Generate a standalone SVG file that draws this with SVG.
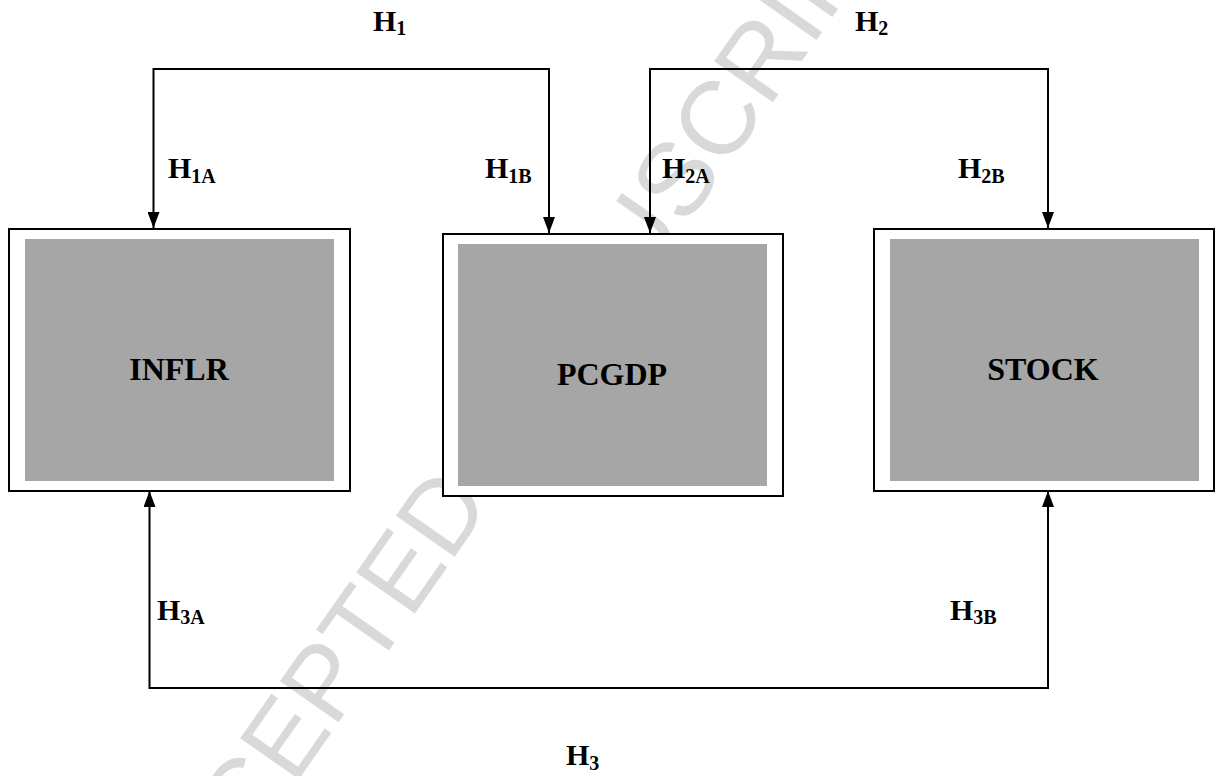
<svg xmlns="http://www.w3.org/2000/svg" width="1215" height="776" viewBox="0 0 1215 776">
<style>
.outer{fill:#ffffff;stroke:#000000;stroke-width:2}
.inner{fill:#a6a6a6;stroke:none}
.name{font-family:"Liberation Serif","Times New Roman",serif;font-weight:bold;font-size:32px;fill:#000000;text-anchor:middle}
.lbl{font-family:"Liberation Serif","Times New Roman",serif;font-weight:bold;font-size:30px;fill:#000000}
.sub{font-size:20px}
.conn{fill:none;stroke:#000000;stroke-width:2;marker-start:url(#arrow);marker-end:url(#arrow)}
.wm{font-family:"Liberation Sans",Arial,sans-serif;font-size:104px;fill:#d9d9d9}
</style>
<defs>
<marker id="arrow" viewBox="0 0 16 12" refX="16" refY="6" markerWidth="16" markerHeight="12" markerUnits="userSpaceOnUse" orient="auto-start-reverse">
<path d="M0,0 L16,6 L0,12 z" fill="#000000"/>
</marker>
</defs>
<rect x="0" y="0" width="1215" height="776" fill="#ffffff"/>
<text class="wm" transform="translate(168,966) rotate(-55)">ACCEPTED MANUSCRIPT</text>
<g id="node-inflr">
<rect class="outer" x="9" y="229" width="341" height="262"/>
<rect class="inner" x="25" y="239" width="309" height="242"/>
<text class="name" x="179" y="380">INFLR</text>
</g>
<g id="node-pcgdp">
<rect class="outer" x="443" y="234" width="340" height="262"/>
<rect class="inner" x="458" y="244" width="309" height="242"/>
<text class="name" x="612" y="385">PCGDP</text>
</g>
<g id="node-stock">
<rect class="outer" x="874" y="229" width="340" height="262"/>
<rect class="inner" x="890" y="239" width="309" height="242"/>
<text class="name" x="1043" y="380">STOCK</text>
</g>
<g id="connectors">
<path class="conn" d="M153.5,228 V69 H549 V233"/>
<path class="conn" d="M650,233 V69 H1048 V228"/>
<path class="conn" d="M149.5,491 V688 H1048 V491"/>
</g>
<g id="labels">
<text class="lbl" x="373" y="31">H<tspan class="sub" dy="4">1</tspan></text>
<text class="lbl" x="855" y="31">H<tspan class="sub" dy="4">2</tspan></text>
<text class="lbl" x="168" y="178">H<tspan class="sub" dy="5">1A</tspan></text>
<text class="lbl" x="485" y="178">H<tspan class="sub" dy="5">1B</tspan></text>
<text class="lbl" x="662" y="178">H<tspan class="sub" dy="5">2A</tspan></text>
<text class="lbl" x="958" y="178">H<tspan class="sub" dy="5">2B</tspan></text>
<text class="lbl" x="157" y="620">H<tspan class="sub" dy="4">3A</tspan></text>
<text class="lbl" x="950" y="620">H<tspan class="sub" dy="4">3B</tspan></text>
<text class="lbl" x="566" y="765">H<tspan class="sub" dy="5">3</tspan></text>
</g>
</svg>
